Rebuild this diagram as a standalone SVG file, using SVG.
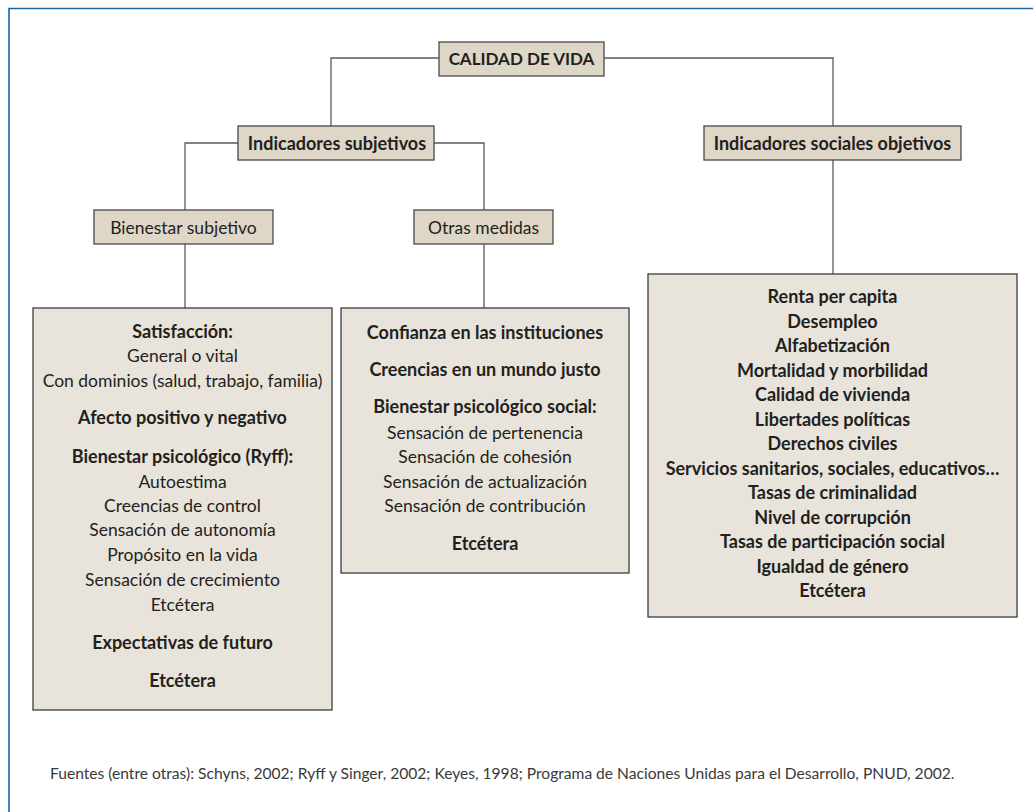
<svg xmlns="http://www.w3.org/2000/svg" width="1033" height="812" viewBox="0 0 1033 812">
<style>
.frame{fill:none;stroke:#1f64a8;stroke-width:1.6}
.hdr{fill:#ded7c7;stroke:#4a4a4a;stroke-width:1.3}
.big{fill:#e8e4db;stroke:#3c3c3c;stroke-width:1.3}
.con{fill:none;stroke:#5a5a5a;stroke-width:1.3}
text{font-family:Lato,"Open Sans","Liberation Sans",sans-serif;fill:#231f20;text-anchor:middle}
.b{font-weight:bold;font-size:18px}
.h{font-weight:bold;font-size:17px}
.r{font-weight:normal;font-size:17.5px}
.f{font-size:15.6px;fill:#3a3a3a;text-anchor:start}
</style>
<rect x="0" y="0" width="1033" height="812" fill="#ffffff"/>
<path class="frame" d="M9,812 V8.5 H1033"/>
<g id="connectors">
<path class="con" d="M439,58 H331 V126"/>
<path class="con" d="M604,58 H833 V126"/>
<path class="con" d="M238,143 H185 V210"/>
<path class="con" d="M434,143 H484 V210"/>
<path class="con" d="M185,244 V308"/>
<path class="con" d="M484,244 V308"/>
<path class="con" d="M833,160 V274"/>
</g>
<g id="calidad">
<rect class="hdr" x="439" y="42" width="165" height="34"/>
<text class="h" x="521.5" y="65">CALIDAD DE VIDA</text>
</g>
<g id="subjetivos">
<rect class="hdr" x="238" y="126" width="196" height="34"/>
<text class="b" x="337" y="149.5">Indicadores subjetivos</text>
</g>
<g id="objetivos">
<rect class="hdr" x="704" y="126" width="257" height="34"/>
<text class="b" x="832.5" y="149.5">Indicadores sociales objetivos</text>
</g>
<g id="bienestar">
<rect class="hdr" x="94" y="210" width="179" height="34"/>
<text class="r" x="183.5" y="233.5">Bienestar subjetivo</text>
</g>
<g id="otras">
<rect class="hdr" x="414" y="210" width="139" height="34"/>
<text class="r" x="483.5" y="233.5">Otras medidas</text>
</g>
<g id="box-bienestar">
<rect class="big" x="33" y="308" width="299" height="402"/>
<text class="b" x="182.5" y="338">Satisfacción:</text>
<text class="r" x="182.5" y="362">General o vital</text>
<text class="r" x="182.5" y="387">Con dominios (salud, trabajo, familia)</text>
<text class="b" x="182.5" y="424">Afecto positivo y negativo</text>
<text class="b" x="182.5" y="463">Bienestar psicológico (Ryff):</text>
<text class="r" x="182.5" y="488">Autoestima</text>
<text class="r" x="182.5" y="512">Creencias de control</text>
<text class="r" x="182.5" y="536">Sensación de autonomía</text>
<text class="r" x="182.5" y="561">Propósito en la vida</text>
<text class="r" x="182.5" y="586">Sensación de crecimiento</text>
<text class="r" x="182.5" y="611">Etcétera</text>
<text class="b" x="182.5" y="649">Expectativas de futuro</text>
<text class="b" x="182.5" y="687">Etcétera</text>
</g>
<g id="box-otras">
<rect class="big" x="341" y="308" width="288" height="265"/>
<text class="b" x="485" y="339">Confianza en las instituciones</text>
<text class="b" x="485" y="376">Creencias en un mundo justo</text>
<text class="b" x="485" y="413">Bienestar psicológico social:</text>
<text class="r" x="485" y="439">Sensación de pertenencia</text>
<text class="r" x="485" y="463">Sensación de cohesión</text>
<text class="r" x="485" y="488">Sensación de actualización</text>
<text class="r" x="485" y="512">Sensación de contribución</text>
<text class="b" x="485" y="550">Etcétera</text>
</g>
<g id="box-objetivos">
<rect class="big" x="648" y="274" width="369" height="343"/>
<text class="b" x="832.5" y="303">Renta per capita</text>
<text class="b" x="832.5" y="327.5">Desempleo</text>
<text class="b" x="832.5" y="352">Alfabetización</text>
<text class="b" x="832.5" y="376.5">Mortalidad y morbilidad</text>
<text class="b" x="832.5" y="401">Calidad de vivienda</text>
<text class="b" x="832.5" y="425.5">Libertades políticas</text>
<text class="b" x="832.5" y="450">Derechos civiles</text>
<text class="b" x="832.5" y="474.5">Servicios sanitarios, sociales, educativos…</text>
<text class="b" x="832.5" y="499">Tasas de criminalidad</text>
<text class="b" x="832.5" y="523.5">Nivel de corrupción</text>
<text class="b" x="832.5" y="548">Tasas de participación social</text>
<text class="b" x="832.5" y="572.5">Igualdad de género</text>
<text class="b" x="832.5" y="597">Etcétera</text>
</g>
<text class="f" x="50" y="779">Fuentes (entre otras): Schyns, 2002; Ryff y Singer, 2002; Keyes, 1998; Programa de Naciones Unidas para el Desarrollo, PNUD, 2002.</text>
</svg>
